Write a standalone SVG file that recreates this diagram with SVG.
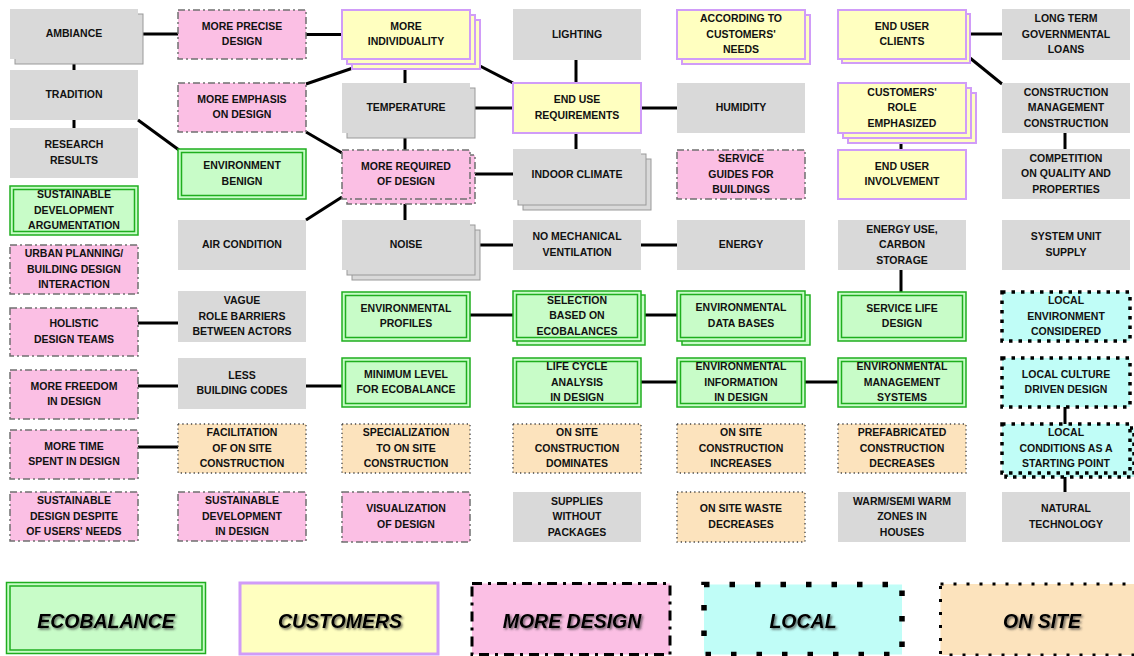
<svg xmlns="http://www.w3.org/2000/svg" width="1134" height="656" viewBox="0 0 1134 656">
<defs>
<style>
.g{fill:#d9d9d9}
.gc{fill:#d9d9d9;stroke:#999;stroke-width:1}
.e{fill:#c8fcc8;stroke:#1fae1f;stroke-width:1.5}
.ei{fill:none;stroke:#1fae1f;stroke-width:1.5}
.y{fill:#ffffc0;stroke:#d09cf8;stroke-width:2}
.p{fill:#fbbfe4;stroke:#707070;stroke-width:1.5;stroke-dasharray:7 3 2 3}
.c{fill:#c0fdf7;stroke:#000;stroke-width:3.5;stroke-dasharray:3.5 6}
.o{fill:#fce3bd;stroke:#444;stroke-width:1.3;stroke-dasharray:1.3 3}
.t{font-family:"Liberation Sans",Arial,sans-serif;font-weight:bold;font-size:10.5px;text-anchor:middle;fill:#111}
.lt{font-family:"Liberation Sans",Arial,sans-serif;font-weight:bold;font-style:italic;font-size:19.5px;text-anchor:middle;fill:#000;filter:url(#sh)}
.cn{stroke:#000;stroke-width:3;fill:none}
</style>
<filter id="sh" x="-10%" y="-40%" width="130%" height="190%">
<feDropShadow dx="1.5" dy="1.5" stdDeviation="1" flood-color="#333" flood-opacity="0.75"/>
</filter>
</defs>
<rect x="0" y="0" width="1134" height="656" fill="#fff"/>

<g id="connectors" class="cn">
<path d="M143 34H178"/>
<path d="M74 64V70"/>
<path d="M74 120V128"/>
<path d="M138 120L179 150"/>
<path d="M306 34.5H342"/>
<path d="M306 84L353 68"/>
<path d="M306 132L342 153"/>
<path d="M306 220L342 197"/>
<path d="M405 69V83"/>
<path d="M480 66L513 83"/>
<path d="M475 108H513"/>
<path d="M405 138V150"/>
<path d="M474 174H513"/>
<path d="M405 204V220"/>
<path d="M576 60V83"/>
<path d="M576 133V149"/>
<path d="M641 108H677"/>
<path d="M480 245H513"/>
<path d="M641 245H677"/>
<path d="M970 34H1002"/>
<path d="M970 58L1002 84"/>
<path d="M901 143V150"/>
<path d="M1065 133V149"/>
<path d="M901 270V292"/>
<path d="M138 323H178"/>
<path d="M138 386H178"/>
<path d="M306 386H342"/>
<path d="M138 447H178"/>
<path d="M470 315H513"/>
<path d="M645 315H677"/>
<path d="M641 382H677"/>
<path d="M805 382H838"/>
<path d="M1065 407V424"/>
<path d="M1065 477V492"/>
</g>

<!-- Column 1 -->
<g id="n_ambiance"><rect class="gc" x="15" y="14" width="128" height="50"/><rect class="g" x="10" y="9" width="128" height="50"/><text class="t" x="74" y="37">AMBIANCE</text></g>
<g id="n_tradition"><rect class="g" x="10" y="70" width="128" height="50"/><text class="t" x="74" y="98">TRADITION</text></g>
<g id="n_research"><rect class="g" x="10" y="128" width="128" height="50"/><text class="t"><tspan x="74" y="148.25">RESEARCH</tspan><tspan x="74" y="163.75">RESULTS</tspan></text></g>
<g id="n_sustdev_arg"><rect class="e" x="10" y="186" width="128" height="49"/><rect class="ei" x="13.5" y="189.5" width="121" height="42"/><text class="t"><tspan x="74" y="198">SUSTAINABLE</tspan><tspan x="74" y="213.5">DEVELOPMENT</tspan><tspan x="74" y="229">ARGUMENTATION</tspan></text></g>
<g id="n_urban"><rect class="p" x="10" y="245" width="128" height="49"/><text class="t"><tspan x="74" y="257">URBAN PLANNING/</tspan><tspan x="74" y="272.5">BUILDING DESIGN</tspan><tspan x="74" y="288">INTERACTION</tspan></text></g>
<g id="n_holistic"><rect class="p" x="10" y="308" width="128" height="48"/><text class="t"><tspan x="74" y="327.25">HOLISTIC</tspan><tspan x="74" y="342.75">DESIGN TEAMS</tspan></text></g>
<g id="n_freedom"><rect class="p" x="10" y="370" width="128" height="49"/><text class="t"><tspan x="74" y="389.75">MORE FREEDOM</tspan><tspan x="74" y="405.25">IN DESIGN</tspan></text></g>
<g id="n_moretime"><rect class="p" x="10" y="430" width="128" height="49"/><text class="t"><tspan x="74" y="449.75">MORE TIME</tspan><tspan x="74" y="465.25">SPENT IN DESIGN</tspan></text></g>
<g id="n_sust_despite"><rect class="p" x="10" y="492" width="128" height="49"/><text class="t"><tspan x="74" y="504">SUSTAINABLE</tspan><tspan x="74" y="519.5">DESIGN DESPITE</tspan><tspan x="74" y="535">OF USERS' NEEDS</tspan></text></g>

<!-- Column 2 -->
<g id="n_precise"><rect class="p" x="178" y="10" width="128" height="49"/><text class="t"><tspan x="242" y="29.75">MORE PRECISE</tspan><tspan x="242" y="45.25">DESIGN</tspan></text></g>
<g id="n_emphasis"><rect class="p" x="178" y="83" width="128" height="49"/><text class="t"><tspan x="242" y="102.75">MORE EMPHASIS</tspan><tspan x="242" y="118.25">ON DESIGN</tspan></text></g>
<g id="n_benign"><rect class="e" x="178" y="149" width="128" height="50"/><rect class="ei" x="181.5" y="152.5" width="121" height="43"/><text class="t"><tspan x="242" y="169.25">ENVIRONMENT</tspan><tspan x="242" y="184.75">BENIGN</tspan></text></g>
<g id="n_aircond"><rect class="g" x="178" y="220" width="128" height="50"/><text class="t" x="242" y="248">AIR CONDITION</text></g>
<g id="n_vague"><rect class="g" x="178" y="291" width="128" height="51"/><text class="t"><tspan x="242" y="304">VAGUE</tspan><tspan x="242" y="319.5">ROLE BARRIERS</tspan><tspan x="242" y="335">BETWEEN  ACTORS</tspan></text></g>
<g id="n_lessbc"><rect class="g" x="178" y="358" width="128" height="51"/><text class="t"><tspan x="242" y="378.75">LESS</tspan><tspan x="242" y="394.25">BUILDING CODES</tspan></text></g>
<g id="n_facil"><rect class="o" x="178" y="424" width="128" height="49"/><text class="t"><tspan x="242" y="436">FACILITATION</tspan><tspan x="242" y="451.5">OF ON SITE</tspan><tspan x="242" y="467">CONSTRUCTION</tspan></text></g>
<g id="n_sustdev_design"><rect class="p" x="178" y="492" width="128" height="49"/><text class="t"><tspan x="242" y="504">SUSTAINABLE</tspan><tspan x="242" y="519.5">DEVELOPMENT</tspan><tspan x="242" y="535">IN DESIGN</tspan></text></g>

<!-- Column 3 -->
<g id="n_individuality"><rect class="y" x="352" y="20" width="128" height="49"/><rect class="y" x="347" y="15" width="128" height="49"/><rect class="y" x="342" y="10" width="128" height="49"/><text class="t"><tspan x="406" y="29.75">MORE</tspan><tspan x="406" y="45.25">INDIVIDUALITY</tspan></text></g>
<g id="n_temperature"><rect class="gc" x="347" y="88" width="128" height="50"/><rect class="g" x="342" y="83" width="128" height="50"/><text class="t" x="406" y="111">TEMPERATURE</text></g>
<g id="n_required"><rect class="p" x="347" y="155" width="128" height="49"/><rect class="p" x="342" y="150" width="128" height="49"/><text class="t"><tspan x="406" y="169.75">MORE REQUIRED</tspan><tspan x="406" y="185.25">OF DESIGN</tspan></text></g>
<g id="n_noise"><rect class="gc" x="352" y="230" width="128" height="50"/><rect class="gc" x="347" y="225" width="128" height="50"/><rect class="g" x="342" y="220" width="128" height="50"/><text class="t" x="406" y="248">NOISE</text></g>
<g id="n_envprofiles"><rect class="e" x="342" y="292" width="128" height="49"/><rect class="ei" x="345.5" y="295.5" width="121" height="42"/><text class="t"><tspan x="406" y="311.75">ENVIRONMENTAL</tspan><tspan x="406" y="327.25">PROFILES</tspan></text></g>
<g id="n_minlevel"><rect class="e" x="342" y="358" width="128" height="49"/><rect class="ei" x="345.5" y="361.5" width="121" height="42"/><text class="t"><tspan x="406" y="377.75">MINIMUM LEVEL</tspan><tspan x="406" y="393.25">FOR ECOBALANCE</tspan></text></g>
<g id="n_special"><rect class="o" x="342" y="424" width="128" height="49"/><text class="t"><tspan x="406" y="436">SPECIALIZATION</tspan><tspan x="406" y="451.5">TO ON SITE</tspan><tspan x="406" y="467">CONSTRUCTION</tspan></text></g>
<g id="n_visual"><rect class="p" x="342" y="492" width="128" height="50"/><text class="t"><tspan x="406" y="512.25">VISUALIZATION</tspan><tspan x="406" y="527.75">OF DESIGN</tspan></text></g>

<!-- Column 4 -->
<g id="n_lighting"><rect class="g" x="513" y="9" width="128" height="51"/><text class="t" x="577" y="37.5">LIGHTING</text></g>
<g id="n_enduse"><rect class="y" x="513" y="83" width="128" height="50"/><text class="t"><tspan x="577" y="103.25">END USE</tspan><tspan x="577" y="118.75">REQUIREMENTS</tspan></text></g>
<g id="n_indoor"><rect class="gc" x="523" y="159" width="128" height="51"/><rect class="gc" x="518" y="154" width="128" height="51"/><rect class="g" x="513" y="149" width="128" height="51"/><text class="t" x="577" y="177.5">INDOOR CLIMATE</text></g>
<g id="n_nomech"><rect class="g" x="513" y="220" width="128" height="50"/><text class="t"><tspan x="577" y="240.25">NO MECHANICAL</tspan><tspan x="577" y="255.75">VENTILATION</tspan></text></g>
<g id="n_selection"><rect class="e" x="517" y="295" width="128" height="50"/><rect class="e" x="513" y="291" width="128" height="50"/><rect class="ei" x="516.5" y="294.5" width="121" height="43"/><text class="t"><tspan x="577" y="303.5">SELECTION</tspan><tspan x="577" y="319">BASED ON</tspan><tspan x="577" y="334.5">ECOBALANCES</tspan></text></g>
<g id="n_lifecycle"><rect class="e" x="513" y="358" width="128" height="49"/><rect class="ei" x="516.5" y="361.5" width="121" height="42"/><text class="t"><tspan x="577" y="370">LIFE CYCLE</tspan><tspan x="577" y="385.5">ANALYSIS</tspan><tspan x="577" y="401">IN DESIGN</tspan></text></g>
<g id="n_dominates"><rect class="o" x="513" y="424" width="128" height="49"/><text class="t"><tspan x="577" y="436">ON SITE</tspan><tspan x="577" y="451.5">CONSTRUCTION</tspan><tspan x="577" y="467">DOMINATES</tspan></text></g>
<g id="n_supplies"><rect class="g" x="513" y="492" width="128" height="50"/><text class="t"><tspan x="577" y="504.5">SUPPLIES</tspan><tspan x="577" y="520">WITHOUT</tspan><tspan x="577" y="535.5">PACKAGES</tspan></text></g>

<!-- Column 5 -->
<g id="n_according"><rect class="y" x="682" y="15" width="128" height="49"/><rect class="y" x="677" y="10" width="128" height="49"/><text class="t"><tspan x="741" y="22">ACCORDING TO</tspan><tspan x="741" y="37.5">CUSTOMERS'</tspan><tspan x="741" y="53">NEEDS</tspan></text></g>
<g id="n_humidity"><rect class="g" x="677" y="83" width="128" height="50"/><text class="t" x="741" y="111">HUMIDITY</text></g>
<g id="n_serviceguides"><rect class="p" x="677" y="150" width="128" height="49"/><text class="t"><tspan x="741" y="162">SERVICE</tspan><tspan x="741" y="177.5">GUIDES FOR</tspan><tspan x="741" y="193">BUILDINGS</tspan></text></g>
<g id="n_energy"><rect class="g" x="677" y="220" width="128" height="50"/><text class="t" x="741" y="248">ENERGY</text></g>
<g id="n_envdata"><rect class="e" x="682" y="295" width="128" height="50"/><rect class="e" x="677" y="291" width="128" height="50"/><rect class="ei" x="680.5" y="294.5" width="121" height="43"/><text class="t"><tspan x="741" y="311.25">ENVIRONMENTAL</tspan><tspan x="741" y="326.75">DATA BASES</tspan></text></g>
<g id="n_envinfo"><rect class="e" x="677" y="358" width="128" height="49"/><rect class="ei" x="680.5" y="361.5" width="121" height="42"/><text class="t"><tspan x="741" y="370">ENVIRONMENTAL</tspan><tspan x="741" y="385.5">INFORMATION</tspan><tspan x="741" y="401">IN DESIGN</tspan></text></g>
<g id="n_increases"><rect class="o" x="677" y="424" width="128" height="49"/><text class="t"><tspan x="741" y="436">ON SITE</tspan><tspan x="741" y="451.5">CONSTRUCTION</tspan><tspan x="741" y="467">INCREASES</tspan></text></g>
<g id="n_waste"><rect class="o" x="677" y="492" width="128" height="50"/><text class="t"><tspan x="741" y="512.25">ON SITE WASTE</tspan><tspan x="741" y="527.75">DECREASES</tspan></text></g>

<!-- Column 6 -->
<g id="n_clients"><rect class="y" x="842" y="14" width="128" height="49"/><rect class="y" x="838" y="10" width="128" height="49"/><text class="t"><tspan x="902" y="29.75">END USER</tspan><tspan x="902" y="45.25">CLIENTS</tspan></text></g>
<g id="n_role"><rect class="y" x="848" y="93" width="128" height="50"/><rect class="y" x="843" y="88" width="128" height="50"/><rect class="y" x="838" y="83" width="128" height="50"/><text class="t"><tspan x="902" y="95.5">CUSTOMERS'</tspan><tspan x="902" y="111">ROLE</tspan><tspan x="902" y="126.5">EMPHASIZED</tspan></text></g>
<g id="n_involvement"><rect class="y" x="838" y="150" width="128" height="49"/><text class="t"><tspan x="902" y="169.75">END USER</tspan><tspan x="902" y="185.25">INVOLVEMENT</tspan></text></g>
<g id="n_energyuse"><rect class="g" x="838" y="220" width="128" height="50"/><text class="t"><tspan x="902" y="232.5">ENERGY USE,</tspan><tspan x="902" y="248">CARBON</tspan><tspan x="902" y="263.5">STORAGE</tspan></text></g>
<g id="n_servicelife"><rect class="e" x="838" y="292" width="128" height="49"/><rect class="ei" x="841.5" y="295.5" width="121" height="42"/><text class="t"><tspan x="902" y="311.75">SERVICE LIFE</tspan><tspan x="902" y="327.25">DESIGN</tspan></text></g>
<g id="n_envmgmt"><rect class="e" x="838" y="358" width="128" height="49"/><rect class="ei" x="841.5" y="361.5" width="121" height="42"/><text class="t"><tspan x="902" y="370">ENVIRONMENTAL</tspan><tspan x="902" y="385.5">MANAGEMENT</tspan><tspan x="902" y="401">SYSTEMS</tspan></text></g>
<g id="n_prefab"><rect class="o" x="838" y="424" width="128" height="49"/><text class="t"><tspan x="902" y="436">PREFABRICATED</tspan><tspan x="902" y="451.5">CONSTRUCTION</tspan><tspan x="902" y="467">DECREASES</tspan></text></g>
<g id="n_warm"><rect class="g" x="838" y="492" width="128" height="50"/><text class="t"><tspan x="902" y="504.5">WARM/SEMI WARM</tspan><tspan x="902" y="520">ZONES IN</tspan><tspan x="902" y="535.5">HOUSES</tspan></text></g>

<!-- Column 7 -->
<g id="n_loans"><rect class="g" x="1002" y="9" width="128" height="51"/><text class="t"><tspan x="1066" y="22">LONG TERM</tspan><tspan x="1066" y="37.5">GOVERNMENTAL</tspan><tspan x="1066" y="53">LOANS</tspan></text></g>
<g id="n_constmgmt"><rect class="g" x="1002" y="83" width="128" height="50"/><text class="t"><tspan x="1066" y="95.5">CONSTRUCTION</tspan><tspan x="1066" y="111">MANAGEMENT</tspan><tspan x="1066" y="126.5">CONSTRUCTION</tspan></text></g>
<g id="n_competition"><rect class="g" x="1002" y="149" width="128" height="50"/><text class="t"><tspan x="1066" y="161.5">COMPETITION</tspan><tspan x="1066" y="177">ON QUALITY AND</tspan><tspan x="1066" y="192.5">PROPERTIES</tspan></text></g>
<g id="n_sysunit"><rect class="g" x="1002" y="220" width="128" height="50"/><text class="t"><tspan x="1066" y="240.25">SYSTEM UNIT</tspan><tspan x="1066" y="255.75">SUPPLY</tspan></text></g>
<g id="n_localenv"><rect class="c" x="1002" y="292" width="128" height="49"/><text class="t"><tspan x="1066" y="304">LOCAL</tspan><tspan x="1066" y="319.5">ENVIRONMENT</tspan><tspan x="1066" y="335">CONSIDERED</tspan></text></g>
<g id="n_localculture"><rect class="c" x="1002" y="358" width="128" height="49"/><text class="t"><tspan x="1066" y="377.75">LOCAL CULTURE</tspan><tspan x="1066" y="393.25">DRIVEN DESIGN</tspan></text></g>
<g id="n_localcond"><rect class="c" x="1006" y="428" width="128" height="49"/><rect class="c" x="1002" y="424" width="128" height="49"/><text class="t"><tspan x="1066" y="436">LOCAL</tspan><tspan x="1066" y="451.5">CONDITIONS AS A</tspan><tspan x="1066" y="467">STARTING POINT</tspan></text></g>
<g id="n_natural"><rect class="g" x="1002" y="492" width="128" height="50"/><text class="t"><tspan x="1066" y="512.25">NATURAL</tspan><tspan x="1066" y="527.75">TECHNOLOGY</tspan></text></g>

<!-- Legend -->
<g id="legend_ecobalance"><rect x="6.5" y="582.5" width="199" height="71" fill="#c8fcc8" stroke="#1fae1f" stroke-width="1.5"/><rect x="10" y="586" width="192" height="64" fill="none" stroke="#1fae1f" stroke-width="1.5"/><text class="lt" x="106" y="628">ECOBALANCE</text></g>
<g id="legend_customers"><rect x="240" y="583" width="198" height="71" fill="#ffffc0" stroke="#d09cf8" stroke-width="3"/><text class="lt" x="340" y="628">CUSTOMERS</text></g>
<g id="legend_moredesign"><rect x="472" y="583.5" width="198" height="71" fill="#fbbfe4" stroke="#000" stroke-width="3" stroke-dasharray="10 6 3 6"/><text class="lt" x="572" y="628">MORE DESIGN</text></g>
<g id="legend_local"><rect x="704" y="584.5" width="198" height="70" fill="#c0fdf7" stroke="#000" stroke-width="5.5" stroke-dasharray="5.5 20"/><text class="lt" x="803" y="628">LOCAL</text></g>
<g id="legend_onsite"><rect x="940.5" y="584" width="198" height="71" fill="#fce3bd" stroke="#000" stroke-width="3" stroke-dasharray="3 10"/><text class="lt" x="1042" y="628">ON SITE</text></g>
</svg>
